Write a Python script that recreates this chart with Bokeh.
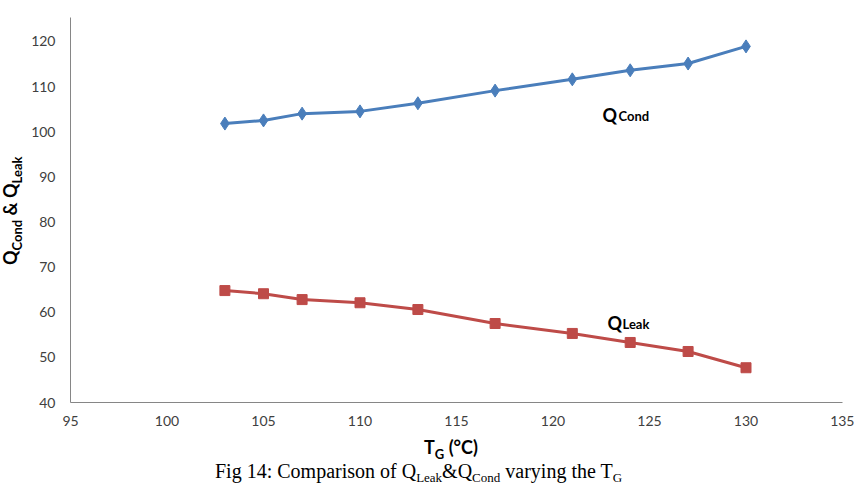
from bokeh.plotting import figure
from bokeh.models import Range1d, Label, FixedTicker, Div
from bokeh.layouts import column, row
from bokeh.embed import file_html
from bokeh.resources import INLINE

# data
tg = [103, 105, 107, 110, 113, 117, 121, 124, 127, 130]
q_cond = [101.8, 102.5, 104.0, 104.5, 106.3, 109.1, 111.6, 113.6, 115.1, 118.9]
q_leak = [64.8, 64.1, 62.8, 62.1, 60.6, 57.5, 55.3, 53.3, 51.3, 47.7]
x_ticks = [95, 100, 105, 110, 115, 120, 125, 130, 135]
y_ticks = [40, 50, 60, 70, 80, 90, 100, 110, 120]

BLUE = "#4A7EBB"
RED = "#BE4B48"
FONT = "Lato"
LEFT_DIV = 26
FIG_H = 436

p = figure(width=854 - LEFT_DIV, height=FIG_H, output_backend="svg", toolbar_location=None,
           x_range=Range1d(95, 135), y_range=Range1d(40, 125.3),
           min_border_left=70 - LEFT_DIV, min_border_right=12, min_border_top=17,
           min_border_bottom=FIG_H - 402, margin=0)
p.outline_line_color = None
p.xgrid.grid_line_color = None
p.ygrid.grid_line_color = None
p.background_fill_color = "white"
p.border_fill_color = "white"

for ax in (p.xaxis[0], p.yaxis[0]):
    ax.axis_line_color = "#868686"
    ax.axis_line_width = 1
    ax.major_tick_line_color = None
    ax.minor_tick_line_color = None
    ax.major_tick_out = 0
    ax.major_tick_in = 0
    ax.major_label_text_font = FONT
    ax.major_label_text_font_size = "14px"
    ax.major_label_text_color = "#404040"
p.xaxis[0].ticker = FixedTicker(ticks=x_ticks)
p.yaxis[0].ticker = FixedTicker(ticks=y_ticks)
p.xaxis[0].major_label_standoff = 13
p.yaxis[0].major_label_standoff = 15

p.line(tg, q_cond, line_color=BLUE, line_width=3)
p.scatter(tg, q_cond, marker="diamond", size=13, fill_color=BLUE, line_color=BLUE)
p.line(tg, q_leak, line_color=RED, line_width=3)
p.scatter(tg, q_leak, marker="square", size=10, fill_color=RED, line_color=RED)


def lab(text, x, y, size):
    p.add_layout(Label(x=x - LEFT_DIV, y=y, x_units="canvas", y_units="canvas", text=text,
                       text_font=FONT, text_font_size=size, text_font_style="bold",
                       text_color="black", text_align="left",
                       text_baseline="alphabetic"))


# series labels
lab("Q", 602, 114, "18px")
lab("Cond", 618, 115, "13px")
lab("Q", 607, 322, "18px")
lab("Leak", 622, 323, "13px")

SUB = "font-size:13px; vertical-align:-5px;"
ytitle = Div(width=LEFT_DIV, height=FIG_H, margin=0, text=(
    f'<div style="position:relative; width:{LEFT_DIV}px; height:{FIG_H}px; background:white;">'
    '<div style="position:absolute; left:1px; top:265px; transform:rotate(-90deg); '
    "transform-origin:left top; white-space:nowrap; font-family:Lato; font-weight:bold; "
    'font-size:18px; line-height:18px; color:black;">'
    f'Q<span style="{SUB}">Cond</span> &amp; Q<span style="{SUB}">Leak</span></div></div>'))

CSUB = "font-size:13px; vertical-align:-4px;"
bottom = Div(width=854, height=484 - FIG_H, margin=0, text=(
    f'<div style="position:relative; width:854px; height:{484 - FIG_H}px; background:white;">'
    '<div style="position:absolute; left:424px; top:2px; white-space:nowrap; font-family:Lato; '
    'font-weight:bold; font-size:18px; line-height:18px; color:black;">'
    f'T<span style="{SUB}">G</span> (°C)</div>'
    '<div style="position:absolute; left:215px; top:25px; white-space:nowrap; '
    "font-family:'Liberation Serif'; font-size:20px; line-height:20px; color:black;\">"
    f'Fig 14: Comparison of Q<span style="{CSUB}">Leak</span>&amp;Q<span style="{CSUB}">Cond</span>'
    f' varying the T<span style="{CSUB}">G</span></div></div>'))

layout = column(row(ytitle, p, spacing=0), bottom, spacing=0)

open("out.html", "w").write(file_html(layout, INLINE))
